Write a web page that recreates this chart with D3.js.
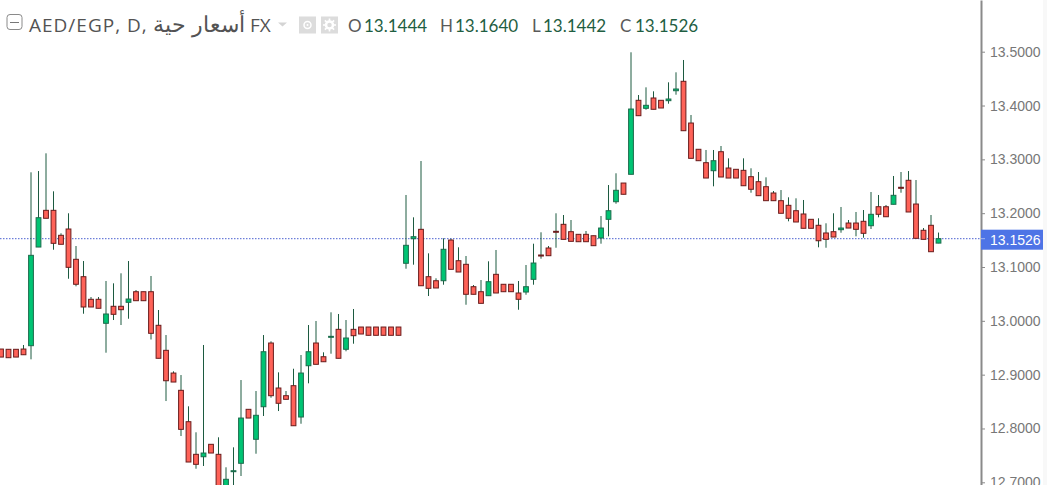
<!DOCTYPE html>
<html><head><meta charset="utf-8">
<script src="https://cdn.jsdelivr.net/npm/d3@7"></script>
<style>html,body{margin:0;padding:0;background:#fff;overflow:hidden}svg{display:block}</style>
</head><body><div id="c"></div>
<script>
const opens=[12.9476,12.9471,12.9471,12.9476,12.9538,13.1371,13.2053,13.2053,13.1589,13.1706,
13.1143,13.0820,13.0400,13.0400,12.9954,13.0270,13.0270,13.0344,13.0541,13.0541,
13.0541,12.9917,12.9452,12.9030,12.8709,12.8126,12.7520,12.7475,12.7706,12.7520,
12.6857,12.7197,12.7353,12.8356,12.7799,12.8404,12.9588,12.8752,12.8609,12.8795,
12.8213,12.9166,12.9588,12.9333,12.9694,12.9842,12.9471,12.9842,12.9885,12.9885,
12.9885,12.9885,12.9885,12.9885,13.1069,13.1526,13.1700,13.0820,13.0745,13.0745,
13.1501,13.1117,13.1050,13.0634,13.0541,13.0467,13.0864,13.0679,13.0679,13.0517,
13.0535,13.0771,13.1223,13.1353,13.1663,13.1793,13.1656,13.1607,13.1607,13.1581,
13.1539,13.1886,13.2213,13.2560,13.2722,13.4097,13.3948,13.4140,13.4097,13.4090,
13.4275,13.4450,13.3675,13.3187,13.2938,13.2789,13.3142,13.2839,13.2815,13.2796,
13.2678,13.2585,13.2492,13.2375,13.2232,13.2146,13.2046,13.1985,13.1886,13.1775,
13.1632,13.1656,13.1693,13.1817,13.1817,13.1849,13.1767,13.2120,13.2120,13.2165,
13.2481,13.2611,13.2170,13.1682,13.1775,13.1444];
const highs=[12.9476,12.9471,12.9471,12.9551,13.2759,13.2783,13.3112,13.2406,13.1626,13.1998,
13.1390,13.1111,13.0442,13.0442,13.0740,13.0697,13.0883,13.1111,13.0572,13.0541,
13.0833,13.0201,12.9736,12.9062,12.8993,12.8412,12.7929,12.9551,12.7706,12.7836,
12.7279,12.7650,12.8900,12.8356,12.8696,12.9736,12.9620,12.9043,12.8696,12.9110,
12.9365,12.9922,12.9997,12.9415,13.0158,13.0127,13.0015,13.0220,12.9885,12.9885,
12.9885,12.9885,12.9885,12.9885,13.2338,13.1923,13.2969,13.1254,13.0790,13.1533,
13.1526,13.1366,13.1204,13.0665,13.0758,13.1106,13.1316,13.0679,13.0679,13.0740,
13.1037,13.1433,13.1645,13.1390,13.1998,13.1966,13.1873,13.1607,13.1669,13.1581,
13.1947,13.2523,13.2741,13.2560,13.4989,13.4195,13.4338,13.4264,13.4097,13.4431,
13.4617,13.4846,13.3824,13.3187,13.3174,13.3174,13.3248,13.3019,13.2815,13.3019,
13.2834,13.2765,13.2666,13.2412,13.2430,13.2295,13.2276,13.2245,13.1886,13.1905,
13.1812,13.1998,13.2115,13.1873,13.2022,13.2059,13.2393,13.2338,13.2152,13.2691,
13.2765,13.2783,13.2616,13.1724,13.1966,13.1640];
const lows=[12.9327,12.9315,12.9327,12.9370,12.9285,13.1371,13.1905,13.1321,13.1422,13.0782,
13.0641,13.0132,13.0257,13.0233,12.9408,13.0015,12.9922,13.0039,13.0374,13.0374,
12.9653,12.9304,12.8510,12.8863,12.7860,12.7377,12.7252,12.7303,12.7544,12.6857,
12.6857,12.6857,12.7117,12.8194,12.7531,12.8232,12.8572,12.8324,12.8542,12.8051,
12.8088,12.8839,12.9192,12.9240,12.9389,12.9304,12.9434,12.9575,12.9755,12.9731,
12.9731,12.9731,12.9731,12.9731,13.0968,13.1043,13.0652,13.0461,13.0610,13.0671,
13.0957,13.0907,13.0299,13.0493,13.0325,13.0467,13.0517,13.0541,13.0541,13.0206,
13.0485,13.0671,13.1154,13.1210,13.1358,13.1514,13.1477,13.1470,13.1470,13.1396,
13.1433,13.1570,13.2176,13.2351,13.2722,13.3811,13.3922,13.3930,13.3954,13.4034,
13.4201,13.3532,13.3019,13.2975,13.2653,13.2499,13.2672,13.2653,13.2653,13.2510,
13.2380,13.2325,13.2232,13.2232,13.1998,13.1849,13.1836,13.1719,13.1719,13.1366,
13.1358,13.1557,13.1637,13.1724,13.1570,13.1544,13.1706,13.1923,13.1934,13.2165,
13.2380,13.2022,13.1533,13.1514,13.1284,13.1442];
const closes=[12.9327,12.9315,12.9327,12.9370,13.1217,13.1916,13.1905,13.1440,13.1422,13.0994,
13.0679,13.0257,13.0257,13.0233,13.0127,13.0121,13.0207,13.0405,13.0374,13.0374,
12.9768,12.9304,12.8887,12.8863,12.7984,12.7377,12.7334,12.7544,12.7544,12.6857,
12.7056,12.7215,12.8194,12.8194,12.8245,12.9426,12.8609,12.8468,12.8542,12.8051,
12.9030,12.9426,12.9192,12.9240,12.9712,12.9304,12.9681,12.9724,12.9755,12.9731,
12.9731,12.9731,12.9731,12.9731,13.1403,13.1563,13.0652,13.0604,13.0610,13.1329,
13.0957,13.0907,13.0493,13.0493,13.0325,13.0727,13.0517,13.0541,13.0541,13.0400,
13.0634,13.1074,13.1204,13.1210,13.1645,13.1514,13.1477,13.1470,13.1470,13.1396,
13.1724,13.2046,13.2425,13.2351,13.3935,13.3811,13.4004,13.3930,13.3954,13.4121,
13.4307,13.3532,13.3019,13.2975,13.2653,13.2975,13.2672,13.2653,13.2653,13.2510,
13.2444,13.2325,13.2232,13.2232,13.1998,13.1905,13.1836,13.1719,13.1719,13.1488,
13.1514,13.1557,13.1724,13.1724,13.1700,13.1626,13.1979,13.1979,13.1934,13.2332,
13.2462,13.2022,13.1533,13.1514,13.1284,13.1526];
const tickLabels=[13.5,13.4,13.3,13.2,13.1,13.0,12.9,12.8,12.7];
const lastPrice=13.1526;
const titleParts=["AED/EGP, D,","أسعار حية","FX"];
const ohlcLetters=["O","H","L","C"];
const ohlcValues=["13.1444","13.1640","13.1442","13.1526"];

const W=1047,H=485,axisX=981,stripX=1043;
const svg=d3.select("#c").append("svg").attr("width",W).attr("height",H);
svg.append("rect").attr("x",stripX).attr("width",W-stripX).attr("height",H).attr("fill","#f8f8f8");

const x=d3.scaleLinear().domain([0,125]).range([1,938.5]);
const y=d3.scaleLinear().domain([13.59605,12.6950]).range([0,485]);

const candles=d3.range(opens.length).map(i=>({i,o:opens[i],h:highs[i],l:lows[i],c:closes[i]}));
const isUp=d=>d.c>d.o;
const plot=svg.append("g");

plot.append("line").attr("x1",0).attr("x2",axisX).attr("y1",y(lastPrice)).attr("y2",y(lastPrice))
 .attr("stroke","#4a60d0").attr("stroke-width",1).attr("stroke-dasharray","1.5,1.5");

plot.selectAll("line.w").data(candles).join("line").attr("class","w")
 .attr("x1",d=>x(d.i)).attr("x2",d=>x(d.i)).attr("y1",d=>y(d.h)).attr("y2",d=>y(d.l))
 .attr("stroke","#1c5a40").attr("stroke-width",1);

plot.selectAll("rect.b").data(candles).join("rect").attr("class","b")
 .attr("x",d=>x(d.i)-2.4).attr("width",4.8)
 .attr("y",d=>y(Math.max(d.o,d.c))).attr("height",d=>Math.max(0.8,Math.abs(y(d.o)-y(d.c))))
 .attr("fill",d=>isUp(d)?"#00c473":"#ff6258")
 .attr("stroke",d=>isUp(d)?"#1c6b4c":"#6a1c1c").attr("stroke-width",1);

const axis=d3.axisRight(y).tickValues(tickLabels).tickFormat(d3.format(".4f")).tickSize(4).tickSizeOuter(0).tickPadding(5);
const ag=svg.append("g").attr("transform",`translate(${axisX},0)`).call(axis);
ag.select(".domain").attr("stroke","#8a8a8a").attr("stroke-width",2);
ag.selectAll(".tick line").attr("stroke","#8a8a8a");
ag.selectAll(".tick text").attr("font-family","'Liberation Sans',Arial,sans-serif").attr("font-size",14).attr("fill","#777");

const ly=y(lastPrice);
svg.append("rect").attr("x",axisX).attr("y",ly-9).attr("width",stripX-axisX).attr("height",20).attr("fill","#4e74e6");
svg.append("line").attr("x1",axisX).attr("x2",axisX+4).attr("y1",ly).attr("y2",ly).attr("stroke","#fff").attr("stroke-opacity",.5);
svg.append("text").attr("x",990).attr("y",ly+1).attr("dy",".35em").attr("font-family","'Liberation Sans',Arial,sans-serif")
 .attr("font-size",14).attr("fill","#fff").text(d3.format(".4f")(lastPrice));

// header
const hdr=svg.append("g");
hdr.append("rect").attr("x",7).attr("y",14.5).attr("width",15).attr("height",15).attr("rx",3).attr("fill","#fff").attr("stroke","#8a8a8a");
hdr.append("line").attr("x1",10).attr("x2",19).attr("y1",22.5).attr("y2",22.5).attr("stroke","#777");
const titleX=[29,153,250], titleSize=[19,21.5,19], titleSpacing=[1,0,0];
titleParts.forEach((t,i)=>hdr.append("text").attr("x",titleX[i]).attr("y",32).attr("font-family","'Open Sans',sans-serif")
 .attr("font-size",titleSize[i]).attr("letter-spacing",titleSpacing[i]).attr("fill","#535353").text(t));
hdr.append("path").attr("d","M278 22.5h9l-4.5 4z").attr("fill","#d4d4d4");
hdr.append("rect").attr("x",299).attr("y",16.5).attr("width",17).attr("height",17).attr("fill","#dcdcdc");
hdr.append("circle").attr("cx",307.5).attr("cy",25).attr("r",3.5).attr("fill","none").attr("stroke","#fff").attr("stroke-width",1.5);
hdr.append("circle").attr("cx",307.5).attr("cy",25).attr("r",1).attr("fill","#fff");
hdr.append("rect").attr("x",321).attr("y",16.5).attr("width",17).attr("height",17).attr("fill","#dcdcdc");
hdr.append("circle").attr("cx",329.5).attr("cy",25).attr("r",3.5).attr("fill","none").attr("stroke","#fff").attr("stroke-width",2.5);
d3.range(8).forEach(k=>{const a=k*Math.PI/4;hdr.append("line")
 .attr("x1",329.5+Math.cos(a)*4).attr("y1",25+Math.sin(a)*4).attr("x2",329.5+Math.cos(a)*6.5).attr("y2",25+Math.sin(a)*6.5)
 .attr("stroke","#fff").attr("stroke-width",1.6);});
const letterX=[348,440,532,620], valX=[364,455,543,635];
ohlcLetters.forEach((l,i)=>{
 hdr.append("text").attr("x",letterX[i]).attr("y",32).attr("font-family","Lato,'Noto Sans',sans-serif").attr("font-size",17).attr("fill","#5a5a5a").text(l);
 hdr.append("text").attr("x",valX[i]).attr("y",32).attr("font-family","Lato,'Noto Sans',sans-serif").attr("font-size",17).attr("fill","#1f5e42").text(ohlcValues[i]);
});
</script></body></html>
